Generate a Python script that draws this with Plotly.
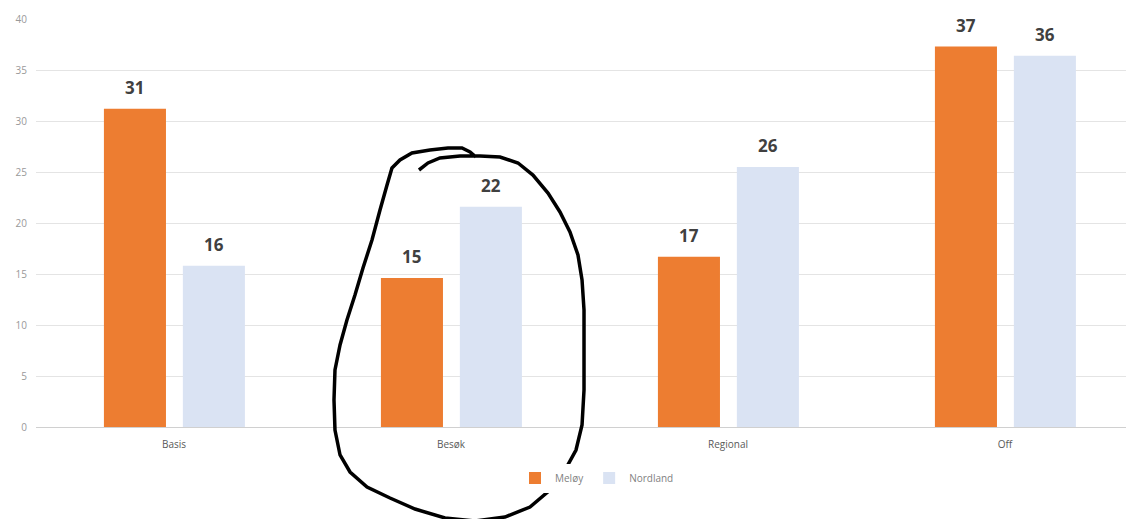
import plotly.graph_objects as go

categories = ["Basis", "Besøk", "Regional", "Off"]
meloy = [31.2, 14.6, 16.7, 37.3]
nordland = [15.8, 21.6, 25.5, 36.4]
series_names = ["Meløy", "Nordland"]
colors = ["#ED7D31", "#DAE3F3"]
y_ticks = [0, 5, 10, 15, 20, 25, 30, 35, 40]

PAGE_OFF = 8  # default body margin of the html page
W, H = 1134 - PAGE_OFF, 519 - PAGE_OFF
ML, MR, MT, MB = 36 - PAGE_OFF, 0, 19 - PAGE_OFF, 92
BAR_W = 0.224
OFFSETS = [-0.253, 0.032]

fig = go.Figure()
xs = list(range(len(categories)))
for name, vals, col, off in zip(series_names, [meloy, nordland], colors, OFFSETS):
    fig.add_trace(go.Bar(
        x=xs, y=vals, name=name, marker_color=col, marker_line_width=0,
        width=BAR_W, offset=off,
    ))
    for xi, v in zip(xs, vals):
        fig.add_annotation(
            x=xi + off + BAR_W / 2, y=v, xref="x", yref="y",
            text=f"<b>{v:.0f}</b>", showarrow=False, yanchor="bottom", yshift=8,
            font=dict(size=17, color="#404040", family="Open Sans"),
        )

# hand-drawn circle (pixel coordinates in the picture)
circle_px = [(419,170),(428,163),(440,158),(460,156),(480,156),(500,157),(518,163),(533,175),
             (548,193),(560,212),(570,232),(578,255),(582,280),(584,310),(584,350),(584,390),
             (582,425),(576,450),(565,470),(550,490),(530,507),(505,517),(475,521),(445,518),
             (415,509),(390,498),(367,487),(350,472),(340,455),(335,430),(334,400),(335,370),
             (340,345),(347,320),(355,295),(363,268),(372,240),(380,210),(387,185),(392,168),
             (400,160),(412,153),(430,150),(448,148),(462,148),(470,152),(476,157)]
pw = W - ML - MR
ph = H - MT - MB
def to_paper(p):
    px, py = p[0] - PAGE_OFF, p[1] - PAGE_OFF
    return ((px - ML) / pw, (H - MB - py) / ph)
pts = [to_paper(p) for p in circle_px]
path = "M " + " L ".join(f"{x:.4f},{y:.4f}" for x, y in pts)
fig.add_shape(type="path", path=path, xref="paper", yref="paper",
              line=dict(color="black", width=3.5), layer="above")

# x range chosen so category spacing matches
x0 = -(174 - 36) / 277
x1 = x0 + pw / 277

fig.update_layout(
    width=W, height=H,
    margin=dict(l=ML, r=MR, t=MT, b=MB, pad=0),
    paper_bgcolor="white", plot_bgcolor="white",
    barmode="overlay",
    font=dict(family="Open Sans", color="#595959"),
    showlegend=True,
    legend=dict(orientation="h", x=(597 - 36) / pw, xanchor="center",
                y=(427 - 478) / ph, yanchor="middle",
                font=dict(size=10, color="#7f7f7f"), itemwidth=30, tracegroupgap=0),
    xaxis=dict(range=[x0, x1], tickmode="array", tickvals=xs, ticktext=categories,
               showgrid=False, zeroline=False, showline=False, ticks="",
               tickfont=dict(size=10, color="#595959"), ticklabelstandoff=10),
    yaxis=dict(range=[0, 40], tickmode="array", tickvals=y_ticks,
               showgrid=True, gridcolor="#E4E4E4", gridwidth=1,
               zeroline=True, zerolinecolor="#D0D0D0", zerolinewidth=1,
               showline=False, ticks="", tickfont=dict(size=10, color="#999999"),
               ticklabelstandoff=8),
)

fig.write_html("out.html")
